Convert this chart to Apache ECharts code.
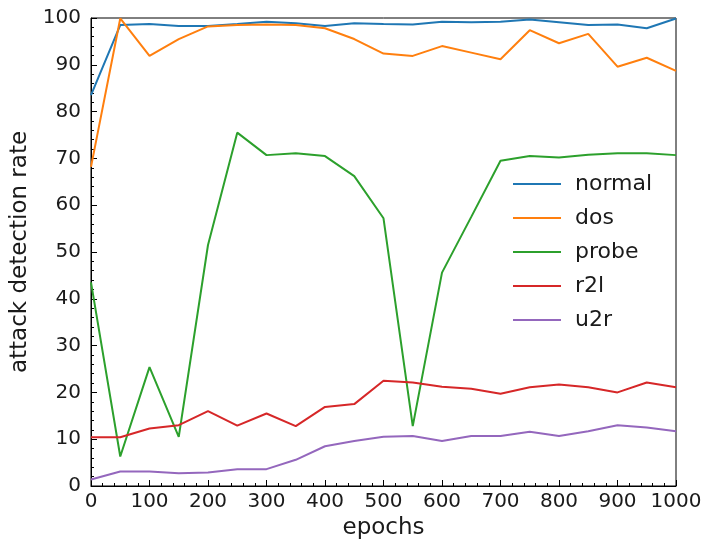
<!DOCTYPE html>
<html>
<head>
<meta charset="utf-8">
<script src="https://cdn.jsdelivr.net/npm/echarts@6/dist/echarts.min.js"></script>
<style>
  html, body { margin: 0; padding: 0; background: #fff; }
  #chart { width: 702px; height: 541px; }
</style>
</head>
<body>
<div id="chart"></div>
<script>
// epochs sampled every 50
const epochs = [0, 50, 100, 150, 200, 250, 300, 350, 400, 450, 500, 550, 600, 650, 700, 750, 800, 850, 900, 950, 1000]

const normal = [83.5, 98.5, 98.7, 98.3, 98.3, 98.7, 99.2, 98.9, 98.3, 98.9, 98.7, 98.6, 99.2, 99.1, 99.2, 99.7, 99.1, 98.5, 98.6, 97.8, 99.9]
const dos    = [68.2, 99.9, 91.9, 95.5, 98.2, 98.5, 98.6, 98.5, 97.8, 95.5, 92.4, 91.9, 94.0, 92.6, 91.2, 97.4, 94.6, 96.6, 89.6, 91.5, 88.7]
const probe  = [43.5, 6.3, 25.4, 10.5, 51.5, 75.5, 70.7, 71.1, 70.5, 66.2, 57.2, 12.8, 45.6, 57.5, 69.5, 70.5, 70.2, 70.8, 71.1, 71.1, 70.7]
const r2l    = [10.4, 10.4, 12.3, 13.0, 16.0, 12.9, 15.5, 12.8, 16.9, 17.5, 22.5, 22.1, 21.2, 20.8, 19.7, 21.1, 21.7, 21.1, 20.0, 22.1, 21.1]
const u2r    = [1.4, 3.1, 3.1, 2.7, 2.9, 3.6, 3.6, 5.6, 8.5, 9.6, 10.5, 10.7, 9.6, 10.7, 10.7, 11.6, 10.7, 11.7, 13.0, 12.5, 11.7]

const seriesNames = ['normal', 'dos', 'probe', 'r2l', 'u2r']
const seriesValues = [normal, dos, probe, r2l, u2r]
const colors = ['#1f77b4', '#ff7f0e', '#2ca02c', '#d62728', '#9467bd']

const font = 'DejaVu Sans'
const textColor = '#1a1a1a'

const chart = echarts.init(document.getElementById('chart'))

const series = seriesNames.map((name, i) => ({
  name: name,
  type: 'line',
  showSymbol: false,
  symbol: 'none',
  data: epochs.map((e, k) => [e, seriesValues[i][k]]),
  lineStyle: { width: 2, color: colors[i] },
  itemStyle: { color: colors[i] },
  animation: false
}))

chart.setOption({
  animation: false,
  color: colors,
  grid: {
    left: 91, right: 26, top: 18, bottom: 55,
    outerBoundsMode: 'none',
    containLabel: false,
    show: true, borderColor: '#000', borderWidth: 1
  },
  legend: {
    orient: 'vertical',
    left: 508,
    top: 168,
    icon: 'rect',
    itemWidth: 48,
    itemHeight: 2,
    itemGap: 12,
    textStyle: { fontFamily: font, fontSize: 22, color: textColor, padding: [0, 0, 0, 9] },
    data: seriesNames
  },
  xAxis: {
    type: 'value',
    min: 0, max: 1000, interval: 100,
    name: 'epochs',
    nameLocation: 'middle',
    nameGap: 29,
    nameTextStyle: { fontFamily: font, fontSize: 23, color: textColor },
    axisLine: { show: true, lineStyle: { color: '#000' } },
    axisTick: { show: true, inside: true, length: 6, lineStyle: { color: '#000' } },
    minorTick: { show: true, splitNumber: 5, length: 3, lineStyle: { color: '#000' } },
    axisLabel: { fontFamily: font, fontSize: 20, color: textColor, margin: 6, formatter: v => String(v) },
    splitLine: { show: false }
  },
  yAxis: {
    type: 'value',
    min: 0, max: 100, interval: 10,
    name: 'attack detection rate',
    nameLocation: 'middle',
    nameGap: 58,
    nameTextStyle: { fontFamily: font, fontSize: 23, color: textColor },
    axisLine: { show: true, lineStyle: { color: '#000' } },
    axisTick: { show: true, inside: true, length: 6, lineStyle: { color: '#000' } },
    minorTick: { show: true, splitNumber: 5, length: 3, lineStyle: { color: '#000' } },
    axisLabel: { fontFamily: font, fontSize: 20, color: textColor, margin: 10 },
    splitLine: { show: false }
  },
  series: series
})
</script>
</body>
</html>
